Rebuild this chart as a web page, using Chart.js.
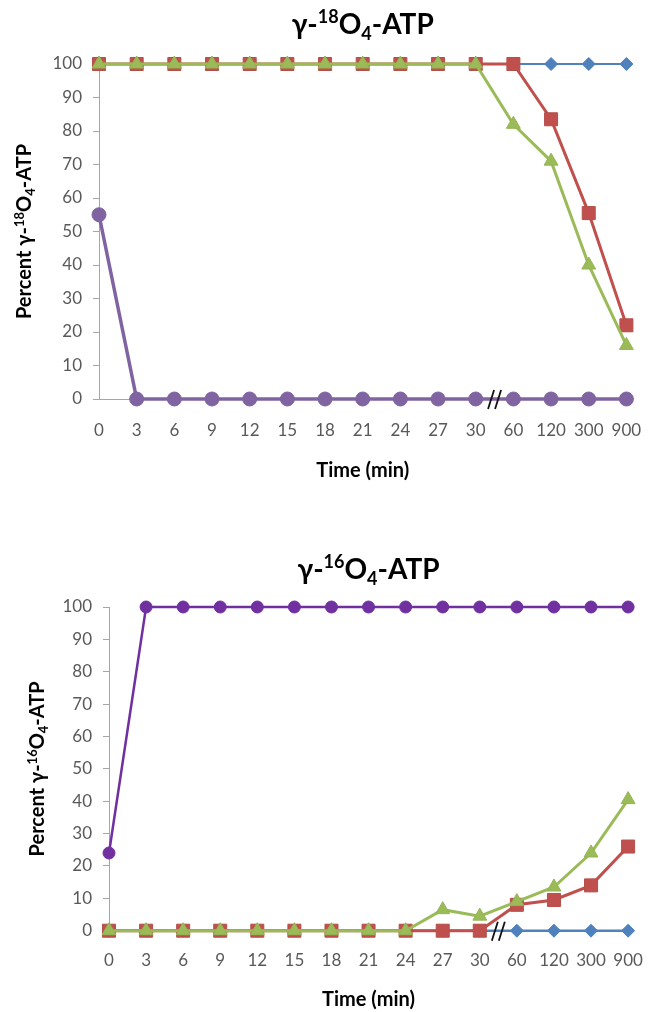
<!DOCTYPE html>
<html>
<head>
<meta charset="utf-8">
<script src="https://cdn.jsdelivr.net/npm/chart.js@4.4.1/dist/chart.umd.min.js"></script>
<style>
  body { margin: 0; background: #fff; }
  .box { position: relative; width: 663px; height: 506px; }
</style>
</head>
<body>
<div class="box"><canvas id="top"></canvas></div>
<div class="box"><canvas id="bottom"></canvas></div>
<script>
// x categories (min), the axis is broken between 30 and 60
const times = ['0', '3', '6', '9', '12', '15', '18', '21', '24', '27', '30', '60', '120', '300', '900'];
const yTicks = [0, 10, 20, 30, 40, 50, 60, 70, 80, 90, 100];

// gamma-18O4-ATP panel
const heavyBlue   = [100, 100, 100, 100, 100, 100, 100, 100, 100, 100, 100, 100, 100, 100, 100];
const heavyRed    = [100, 100, 100, 100, 100, 100, 100, 100, 100, 100, 100, 100, 83.5, 55.5, 22];
const heavyGreen  = [100, 100, 100, 100, 100, 100, 100, 100, 100, 100, 100, 82, 71, 40, 16];
const heavyPurple = [55, 0, 0, 0, 0, 0, 0, 0, 0, 0, 0, 0, 0, 0, 0];

// gamma-16O4-ATP panel
const lightBlue   = [0, 0, 0, 0, 0, 0, 0, 0, 0, 0, 0, 0, 0, 0, 0];
const lightRed    = [0, 0, 0, 0, 0, 0, 0, 0, 0, 0, 0, 8, 9.5, 14, 26];
const lightGreen  = [0, 0, 0, 0, 0, 0, 0, 0, 0, 6.5, 4.5, 9, 13.5, 24, 40.5];
const lightPurple = [24, 100, 100, 100, 100, 100, 100, 100, 100, 100, 100, 100, 100, 100, 100];

const FONT = 'Lato, "Open Sans", sans-serif';
const AXIS_GREY = '#a6a6a6';
const TITLE_SIZE = 28;
const AXIS_TITLE_SIZE = 20;

// label pieces: [text, 0 normal / 1 superscript / -1 subscript]
function atpLabel(prefix, mass) {
  return [[prefix + 'γ-', 0], [mass, 1], ['O', 0], ['4', -1], ['-ATP', 0]];
}

// draws text with super/subscripts, centred on x, on baseline y
function drawRich(ctx, parts, x, y, size) {
  const small = Math.round(size * 0.66);
  const fontFor = p => 'bold ' + (p[1] ? small : size) + 'px ' + FONT;
  let total = 0;
  parts.forEach(p => { ctx.font = fontFor(p); total += ctx.measureText(p[0]).width; });
  let cx = x - total / 2;
  ctx.textAlign = 'left';
  ctx.textBaseline = 'alphabetic';
  ctx.fillStyle = '#000';
  parts.forEach(p => {
    ctx.font = fontFor(p);
    const dy = p[1] === 1 ? -size * 0.38 : p[1] === -1 ? size * 0.2 : 0;
    ctx.fillText(p[0], cx, y + dy);
    cx += ctx.measureText(p[0]).width;
  });
}

const richTitles = {
  id: 'richTitles',
  afterDraw(chart, args, o) {
    const ctx = chart.ctx;
    const a = chart.chartArea;
    ctx.save();
    drawRich(ctx, o.title, (a.left + a.right) / 2, o.titleBaseline, TITLE_SIZE);
    ctx.translate(o.yTitleX, (a.top + a.bottom) / 2);
    ctx.rotate(-Math.PI / 2);
    drawRich(ctx, o.yTitle, 0, AXIS_TITLE_SIZE * 0.36, AXIS_TITLE_SIZE);
    ctx.restore();
  }
};

// draws the "//" axis break between 30 and 60
const axisBreak = {
  id: 'axisBreak',
  afterDatasetsDraw(chart) {
    const ctx = chart.ctx;
    const x = chart.scales.x.getPixelForValue(10.5);
    const y = chart.scales.y.getPixelForValue(0);
    ctx.save();
    ctx.strokeStyle = '#111';
    ctx.lineWidth = 1.8;
    [-3.5, 3.5].forEach(dx => {
      ctx.beginPath();
      ctx.moveTo(x + dx - 3, y + 10);
      ctx.lineTo(x + dx + 3, y - 9);
      ctx.stroke();
    });
    ctx.restore();
  }
};

function series(data, color, style, radius, width, order, edge) {
  return {
    data: data,
    borderColor: color,
    backgroundColor: color,
    pointBackgroundColor: color,
    pointBorderColor: edge || color,
    pointBorderWidth: 1,
    pointStyle: style,
    pointRadius: radius,
    borderWidth: width,
    order: order,
    clip: false
  };
}

function makeChart(id, title, yTitle, sets, L) {
  new Chart(document.getElementById(id), {
    type: 'line',
    data: { labels: times, datasets: sets },
    options: {
      responsive: true,
      maintainAspectRatio: false,
      animation: false,
      layout: { padding: { left: 0, right: L.right, top: L.top, bottom: 0 } },
      plugins: {
        legend: { display: false },
        tooltip: { enabled: false },
        title: { display: false },
        richTitles: { title: title, yTitle: yTitle, titleBaseline: L.titleBaseline, yTitleX: L.yTitleX }
      },
      scales: {
        x: {
          type: 'category',
          offset: false,
          grid: { display: false, drawTicks: false },
          border: { display: true, color: AXIS_GREY, width: 1 },
          ticks: { color: '#595959', font: { family: FONT, size: 17 }, padding: L.xPad, maxRotation: 0, autoSkip: false },
          title: { display: true, text: 'Time (min)', color: '#000', font: { family: FONT, size: AXIS_TITLE_SIZE, weight: 'bold' }, padding: { top: 0, bottom: L.xTitleBottom } },
          afterFit: s => { s.height = L.xHeight; }
        },
        y: {
          min: 0,
          max: 100,
          afterBuildTicks: s => { s.ticks = yTicks.map(v => ({ value: v })); },
          grid: { display: true, drawOnChartArea: false, drawTicks: true, tickLength: 6, color: AXIS_GREY },
          border: { display: true, color: AXIS_GREY, width: 1 },
          ticks: { color: '#595959', font: { family: FONT, size: 17 }, padding: 11 },
          afterFit: s => { s.width = L.yWidth; }
        }
      }
    },
    plugins: [axisBreak, richTitles]
  });
}

makeChart('top', atpLabel('', '18'), atpLabel('Percent ', '18'), [
  series(heavyPurple, '#8064a2', 'circle', 7, 3.5, 0),
  series(heavyGreen, '#9bbb59', 'triangle', 8, 3, 1, '#93b552'),
  series(heavyRed, '#c0504d', 'rect', 9.2, 3, 2, '#b4504a'),
  series(heavyBlue, '#4f81bd', 'rectRot', 6.5, 2, 3)
], { right: 16, top: 64, titleBaseline: 34, xPad: 21.8, xTitleBottom: 23.2, xHeight: 107, yTitleX: 24, yWidth: 99 });

makeChart('bottom', atpLabel('', '16'), atpLabel('Percent ', '16'), [
  series(lightPurple, '#7030a0', 'circle', 6, 2.5, 0),
  series(lightGreen, '#9bbb59', 'triangle', 8, 3, 1, '#93b552'),
  series(lightRed, '#c0504d', 'rect', 9.2, 3, 2, '#b4504a'),
  series(lightBlue, '#4f81bd', 'rectRot', 6.5, 2.5, 3)
], { right: 21, top: 101, titleBaseline: 73, xPad: 20.1, xTitleBottom: 0.2, xHeight: 81.3, yTitleX: 37, yWidth: 109 });
</script>
</body>
</html>
